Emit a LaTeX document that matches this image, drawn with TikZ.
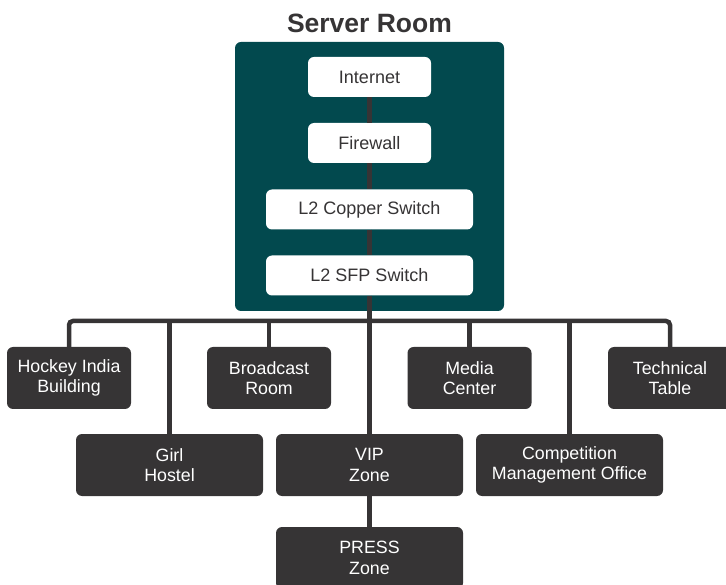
\documentclass[tikz,border=0pt]{standalone}
\usepackage{fontspec}
\setmainfont{Liberation Sans}
\usetikzlibrary{positioning}
\definecolor{roomteal}{HTML}{02494E}
\definecolor{boxgray}{HTML}{363435}

\begin{document}
\begin{tikzpicture}[x=1pt,y=-1pt,
    serverbox/.style={fill=roomteal,rounded corners=6pt,minimum width=269pt,minimum height=269pt,inner sep=0pt},
    device/.style={fill=white,text=boxgray,rounded corners=6pt,minimum height=40pt,inner sep=0pt,font=\fontsize{18}{21}\selectfont},
    place/.style={fill=boxgray,text=white,rounded corners=6pt,minimum height=62pt,inner sep=0pt,align=center,font=\fontsize{17.8}{20.5}\selectfont},
    link/.style={draw=boxgray,line width=4.5pt}]
    \useasboundingbox (0,0) rectangle (726,585);
    \node[serverbox] (server) at (369.5,176.5) {};
    \node[font=\fontsize{26.5}{30}\selectfont\bfseries,text=boxgray] (title) at (369.5,23) {Server Room};
    \node[device,minimum width=123pt] (internet) at (369.5,77) {Internet};
    \node[device,minimum width=123pt] (firewall) at (369.5,143) {Firewall};
    \node[device,minimum width=207pt] (copper) at (369.5,209.5) {L2 Copper Switch};
    \node[device,minimum width=207pt] (sfp) at (369.5,275.5) {L2 SFP Switch};
    \coordinate (bus) at (369.5,321);
    \node[place,minimum width=124pt] (hockey) at (69,378) {Hockey India\\Building};
    \node[place,minimum width=124pt] (broadcast) at (269,378) {Broadcast\\Room};
    \node[place,minimum width=124pt] (media) at (469.5,378) {Media\\Center};
    \node[place,minimum width=124pt] (technical) at (670,378) {Technical\\Table};
    \node[place,minimum width=187pt] (girl) at (169.5,465) {Girl\\Hostel};
    \node[place,minimum width=187pt] (vip) at (369.5,465) {VIP\\Zone};
    \node[place,minimum width=187pt] (competition) at (569.5,465) {Competition\\Management Office};
    \node[place,minimum width=187pt] (press) at (369.5,558) {PRESS\\Zone};
    \draw[link] (internet) -- (firewall);
    \draw[link] (firewall) -- (copper);
    \draw[link] (copper) -- (sfp);
    \draw[link] (sfp) -- (vip);
    \draw[link] (vip) -- (press);
    \draw[link,rounded corners=4pt] (hockey.north) |- (bus) -| (technical.north);
    \draw[link] (girl.north) -- (girl.north |- bus);
    \draw[link] (broadcast.north) -- (broadcast.north |- bus);
    \draw[link] (media.north) -- (media.north |- bus);
    \draw[link] (competition.north) -- (competition.north |- bus);
\end{tikzpicture}
\end{document}
